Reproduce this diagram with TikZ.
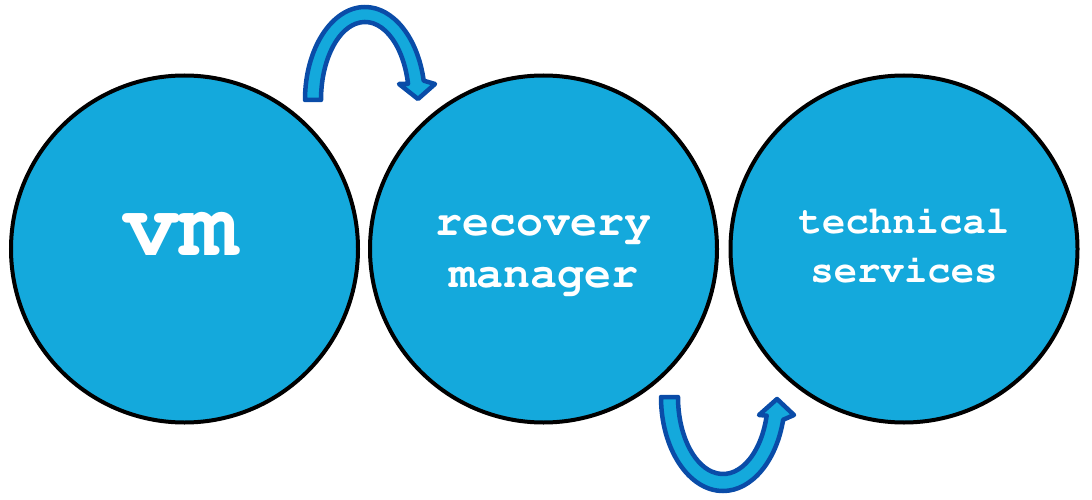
\documentclass[tikz,border=0pt]{standalone}
\usepackage[T1]{fontenc}
\usepackage{courier}
\usepackage{xcolor}
\usepackage{tikz}

\definecolor{discblue}{HTML}{14A9DC}
\definecolor{arrowline}{HTML}{0A4CA8}

\begin{document}
\begin{tikzpicture}[x=1pt, y=1pt,
    disc/.style={circle, draw=black, line width=4pt, fill=discblue, minimum size=347pt, inner sep=0pt},
    word/.style={text=white, align=center, anchor=base},
    uturn/.style={draw=arrowline, fill=discblue, line width=4.5pt, line join=round}]
            \useasboundingbox (0,0) rectangle (1092,499);
            \node[disc] (vm) at (184.5,250) {};
            \node[disc] (rm) at (543.5,250) {};
            \node[disc] (ts) at (904,250) {};
            \node[word, font=\ttfamily\bfseries\fontsize{96}{96}\selectfont] (vmtext) at (180.5,244) {vm};
            \node[word, font=\ttfamily\bfseries\fontsize{45}{52}\selectfont] (rmtext) at (543.5,212) {recovery\\manager};
            \node[word, font=\ttfamily\bfseries\fontsize{39}{49}\selectfont] (tstext) at (904,217) {technical\\services};
            % curved arrows
            \draw[uturn] (305,399) arc[start angle=180, end angle=12, x radius=60pt, y radius=93pt]
              -- (435,415) -- (418,400) -- (399,415)
              -- ([shift={(365,399)}]12:44pt and 78pt)
              arc[start angle=12, end angle=180, x radius=44pt, y radius=78pt] -- cycle;
            \draw[uturn] (661,102) arc[start angle=180, end angle=346, x radius=62pt, y radius=94pt]
              -- (794,84) -- (777,100) -- (759,84)
              -- ([shift={(723,102)}]346:45pt and 77pt)
              arc[start angle=346, end angle=180, x radius=45pt, y radius=77pt] -- cycle;
          \end{tikzpicture}
\end{document}
